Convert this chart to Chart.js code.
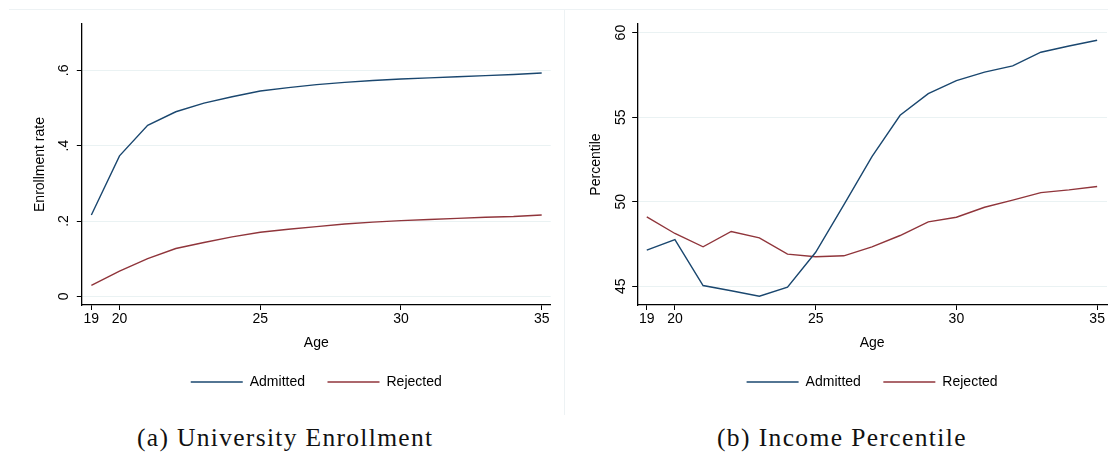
<!DOCTYPE html>
<html>
<head>
<meta charset="utf-8">
<script src="https://cdn.jsdelivr.net/npm/chart.js@4/dist/chart.umd.min.js"></script>
<style>
  body { margin: 0; background: #fff; }
  #wrap { position: relative; width: 1108px; height: 453px; overflow: hidden; }
  canvas { position: absolute; top: 0; }
  .rule { position: absolute; background: #edf2f4; }
  .caption {
    position: absolute; top: 425px; line-height: 26px; font-size: 25.5px;
    font-family: "Liberation Serif", serif; color: #111; white-space: nowrap;
  }
</style>
</head>
<body>
<div id="wrap">
  <div class="rule" style="left:9px; top:9px; width:1099px; height:1px;"></div>
  <div class="rule" style="left:564px; top:9px; width:1px; height:406px;"></div>
  <canvas id="enrollChart" width="564" height="400" style="left:0;"></canvas>
  <canvas id="incomeChart" width="543" height="400" style="left:565px;"></canvas>
  <div class="caption" data-center="285" data-width="296">(a) University Enrollment</div>
  <div class="caption" data-center="842" data-width="250">(b) Income Percentile</div>
</div>
<script>
const ages = [19, 20, 21, 22, 23, 24, 25, 26, 27, 28, 29, 30, 31, 32, 33, 34, 35];
const ageTicks = [19, 20, 25, 30, 35];

// (a) enrollment rate
const enrollAdmitted = [0.216, 0.373, 0.454, 0.490, 0.513, 0.530, 0.545, 0.554, 0.562, 0.568, 0.573, 0.577, 0.580, 0.583, 0.586, 0.589, 0.593];
const enrollRejected = [0.029, 0.067, 0.100, 0.127, 0.143, 0.158, 0.170, 0.178, 0.185, 0.192, 0.197, 0.201, 0.204, 0.207, 0.210, 0.212, 0.216];
const enrollTicks = [0, 0.2, 0.4, 0.6];
const enrollTickLabels = ['0', '.2', '.4', '.6'];

// (b) income percentile
const incomeAdmitted = [47.13, 47.76, 45.04, 44.73, 44.41, 44.95, 47.01, 49.81, 52.67, 55.11, 56.39, 57.16, 57.66, 58.03, 58.84, 59.21, 59.55];
const incomeRejected = [49.10, 48.12, 47.33, 48.24, 47.86, 46.90, 46.74, 46.80, 47.33, 48.00, 48.81, 49.08, 49.67, 50.09, 50.54, 50.70, 50.90];
const incomeTicks = [45, 50, 55, 60];
const incomeTickLabels = ['45', '50', '55', '60'];

const seriesNames = ['Admitted', 'Rejected'];
const navy = '#1a476f';
const maroon = '#90353b';
const font = { family: '"Liberation Sans", Arial, sans-serif', size: 14 };

// y tick labels in Stata are turned 90 degrees, so they are drawn here
const rotatedYTicks = {
    id: 'rotatedYTicks',
    afterDraw(chart, args, opts) {
        const y = chart.scales.y;
        const ctx = chart.ctx;
        ctx.save();
        ctx.font = `${font.size}px ${font.family}`;
        ctx.fillStyle = '#000';
        ctx.textAlign = 'center';
        ctx.textBaseline = 'middle';
        opts.values.forEach((v, i) => {
            ctx.save();
            ctx.translate(chart.chartArea.left - opts.gap, y.getPixelForValue(v));
            ctx.rotate(-Math.PI / 2);
            ctx.fillText(opts.labels[i], 0, 0);
            ctx.restore();
        });
        ctx.restore();
    }
};

const makeChart = (id, admitted, rejected, cfg) => {
    const toPoints = vals => ages.map((a, i) => ({ x: a, y: vals[i] }));
    return new Chart(document.getElementById(id), {
        type: 'line',
        data: {
            datasets: [
                { label: seriesNames[0], data: toPoints(admitted), borderColor: navy, backgroundColor: navy, borderWidth: 1.4, pointRadius: 0, tension: 0 },
                { label: seriesNames[1], data: toPoints(rejected), borderColor: maroon, backgroundColor: maroon, borderWidth: 1.4, pointRadius: 0, tension: 0 }
            ]
        },
        options: {
            responsive: false,
            animation: false,
            layout: { padding: { top: 24, bottom: 1, left: 0, right: cfg.padRight } },
            scales: {
                x: {
                    type: 'linear',
                    min: 18.66,
                    max: cfg.xMax,
                    afterBuildTicks: scale => { scale.ticks = ageTicks.map(v => ({ value: v })); },
                    afterFit: scale => { scale.height = 47.5; },
                    grid: { drawOnChartArea: false, drawTicks: true, tickLength: 5, tickColor: '#000', tickWidth: 1 },
                    border: { display: true, color: '#000', width: 1.3 },
                    ticks: { color: '#000', font: font, padding: 1, maxRotation: 0, autoSkip: false },
                    title: { display: true, text: 'Age', color: '#000', font: font, padding: { top: 0, bottom: 1.1 } }
                },
                y: {
                    type: 'linear',
                    min: cfg.yMin,
                    max: cfg.yMax,
                    afterBuildTicks: scale => { scale.ticks = cfg.yTicks.map(v => ({ value: v })); },
                    afterFit: scale => { scale.width = cfg.axisLeft; },
                    grid: { color: '#eaf2f3', lineWidth: 1, drawTicks: true, tickLength: 5, tickColor: '#000', tickWidth: 1 },
                    border: { display: true, color: '#000', width: 1.3 },
                    ticks: { display: false },
                    title: { display: true, text: cfg.yTitle, color: '#000', font: font, padding: { top: cfg.titlePad, bottom: 0 } }
                }
            },
            plugins: {
                legend: {
                    position: 'bottom',
                    fullSize: false,
                    labels: {
                        usePointStyle: true,
                        pointStyle: 'line',
                        pointStyleWidth: 52,
                        padding: 22.5,
                        color: '#000',
                        font: font
                    }
                },
                tooltip: { enabled: false },
                rotatedYTicks: { values: cfg.yTicks, labels: cfg.yLabels, gap: cfg.labelGap }
            }
        },
        plugins: [rotatedYTicks]
    });
};

makeChart('enrollChart', enrollAdmitted, enrollRejected, {
    padRight: 13.3, xMax: 35.32, yMin: -0.023, yMax: 0.723,
    yTicks: enrollTicks, yLabels: enrollTickLabels, yTitle: 'Enrollment rate',
    axisLeft: 81.8, titlePad: 32, labelGap: 17.5
});

makeChart('incomeChart', incomeAdmitted, incomeRejected, {
    padRight: 1, xMax: 35.35, yMin: 43.89, yMax: 60.51,
    yTicks: incomeTicks, yLabels: incomeTickLabels, yTitle: 'Percentile',
    axisLeft: 72.2, titlePad: 22.6, labelGap: 16
});

// fit the captions to the widths in the figure
document.querySelectorAll('.caption').forEach(el => {
    const target = parseFloat(el.dataset.width);
    const n = el.textContent.length;
    el.style.letterSpacing = ((target - el.offsetWidth) / n) + 'px';
    el.style.left = (parseFloat(el.dataset.center) - target / 2) + 'px';
});
</script>
</body>
</html>
